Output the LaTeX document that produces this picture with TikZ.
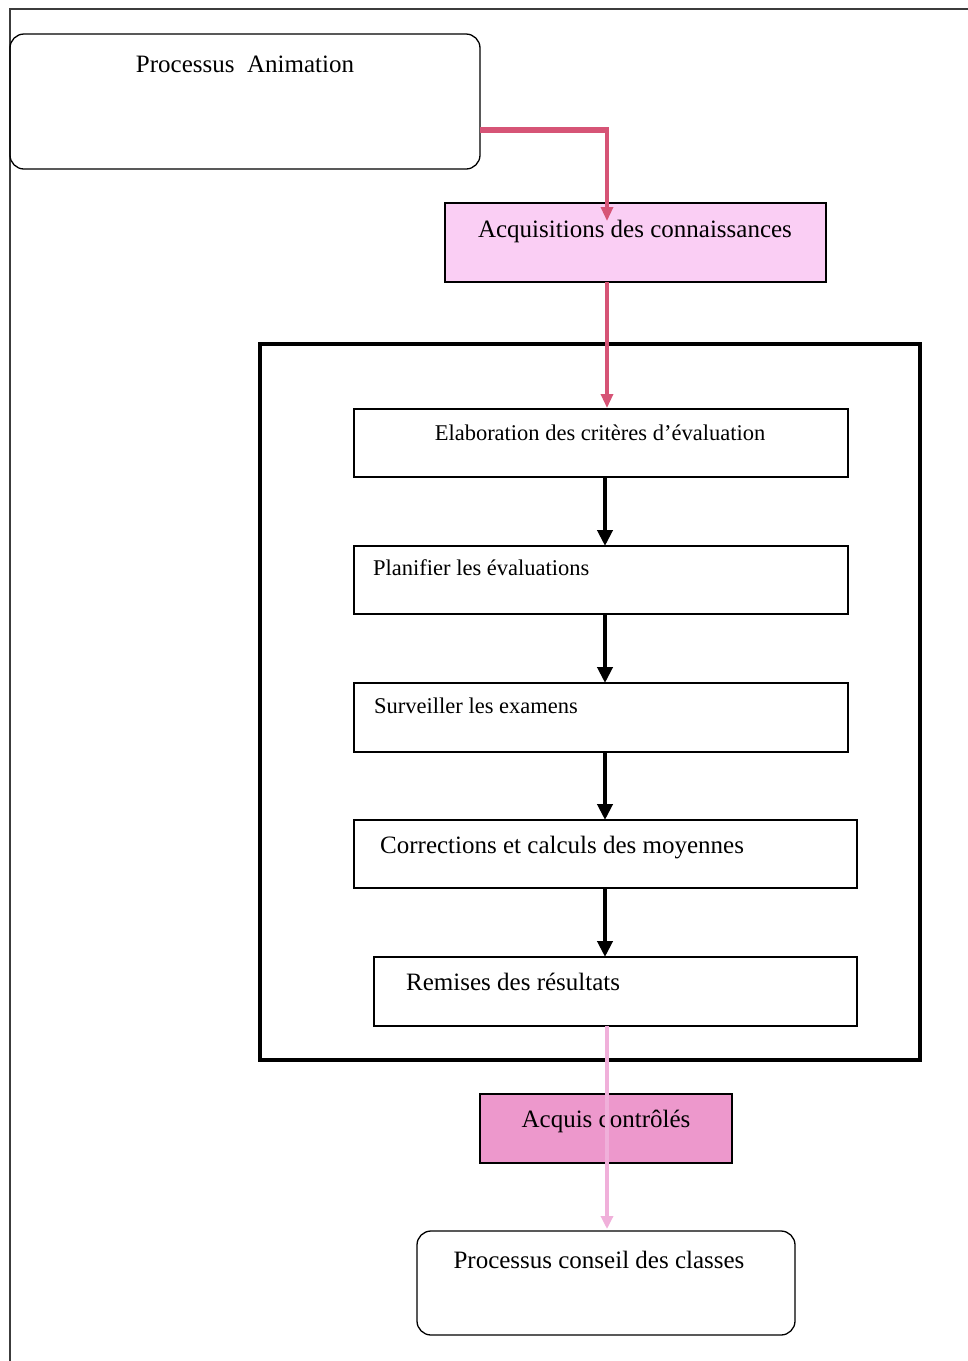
\documentclass[tikz,border=0pt]{standalone}
\usepackage{fontspec}
\setmainfont{Liberation Serif}
\usetikzlibrary{arrows.meta,calc}

\definecolor{pinkline}{RGB}{214,84,118}
\definecolor{pinklight}{RGB}{240,176,218}
\definecolor{fillsoft}{RGB}{250,206,244}
\definecolor{fillhot}{RGB}{237,152,204}
\definecolor{framegray}{RGB}{60,60,60}

\tikzset{
  box/.style={draw=black, line width=1.3pt, inner sep=0pt},
  roundbox/.style={box, rounded corners=14pt},
  big/.style={font=\fontsize{25}{30}\selectfont, inner sep=0pt},
  small/.style={font=\fontsize{22.5}{27}\selectfont, inner sep=0pt},
  flow/.style={line width=4.5pt, -{Triangle[width=15pt,length=16pt]}},
  pinkflow/.style={draw=pinkline, line width=3.2pt, -{Triangle[width=12pt,length=14pt]}, color=pinkline},
  softflow/.style={draw=pinklight, line width=3.2pt, -{Triangle[width=12pt,length=13pt]}, color=pinklight},
}

\begin{document}
\begin{tikzpicture}[x=1pt, y=-1pt]
\useasboundingbox (0,0) rectangle (968,1361);

% page rule
\coordinate (ruleR) at (968,9);
\coordinate (ruleTL) at (10,9);
\coordinate (ruleB) at (10,1361);
\draw[framegray, line width=1.6pt] (ruleR) -- (ruleTL) -- (ruleB);

% process boxes
\draw[roundbox] (10,34) rectangle (480,169);
\node[big, anchor=base] (tA) at (245,72) {Processus\ \ Animation};

\draw[box, fill=fillsoft] (445,203) rectangle (826,282);
\node[big, anchor=base] (tB) at (635,237) {Acquisitions des connaissances};

% evaluation frame
\draw[line width=3.4pt] (260,344) rectangle (920,1060);

\draw[box] (354,409) rectangle (848,477);
\node[small, anchor=base] (t1) at (600,440) {Elaboration des critères d’évaluation};

\draw[box] (354,546) rectangle (848,614);
\node[small, anchor=base west] (t2) at (373,575) {Planifier les évaluations};

\draw[box] (354,683) rectangle (848,752);
\node[small, anchor=base west] (t3) at (374,713) {Surveiller les examens};

\draw[box] (354,820) rectangle (857,888);
\node[big, anchor=base west] (t4) at (380,853) {Corrections et calculs des moyennes};

\draw[box] (374,957) rectangle (857,1026);
\node[big, anchor=base west] (t5) at (406,990) {Remises des résultats};

\draw[box, fill=fillhot] (480,1094) rectangle (732,1163);
\node[big, anchor=base] (tD) at (606,1127) {Acquis contrôlés};

\draw[roundbox] (417,1231) rectangle (795,1335);
\node[big, anchor=base] (tE) at (599,1268) {Processus conseil des classes};

% connector end points
\coordinate (aOut) at (480,130);
\coordinate (aBend) at (607,130);
\coordinate (bIn) at (607,221);
\coordinate (bOut) at (607,282);
\coordinate (c1In) at (607,408);
\coordinate (c1Out) at (605,477);
\coordinate (c2In) at (605,546);
\coordinate (c2Out) at (605,614);
\coordinate (c3In) at (605,683);
\coordinate (c3Out) at (605,752);
\coordinate (c4In) at (605,820);
\coordinate (c4Out) at (605,888);
\coordinate (c5In) at (605,957);
\coordinate (c5Out) at (607,1026);
\coordinate (eIn) at (607,1229);

% connectors
\draw[pinkline, line width=6pt] (aOut) -- ($(aBend)+(1.6,0)$);
\draw[pinkflow] ($(aBend)+(0,-3)$) -- (bIn);
\draw[pinkflow] (bOut) -- (c1In);
\draw[flow] (c1Out) -- (c2In);
\draw[flow] (c2Out) -- (c3In);
\draw[flow] (c3Out) -- (c4In);
\draw[flow] (c4Out) -- (c5In);
\draw[softflow] (c5Out) -- (eIn);
\end{tikzpicture}
\end{document}
